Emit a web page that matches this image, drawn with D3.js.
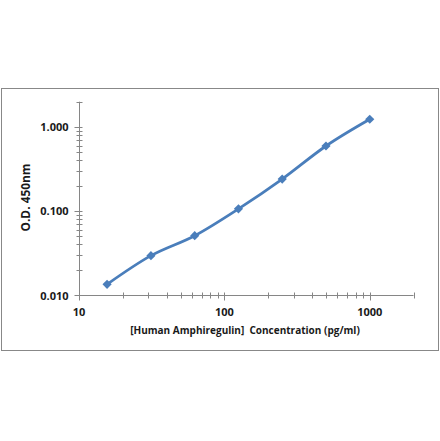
<!DOCTYPE html>
<html>
<head>
<meta charset="utf-8">
<script src="https://cdn.jsdelivr.net/npm/d3@7"></script>
<style>
  html, body { margin: 0; padding: 0; background: #fff; }
  svg { display: block; }
  text { font-family: "Open Sans", "Liberation Sans", sans-serif; font-weight: bold; fill: #1a1a1a; }
</style>
</head>
<body>
<svg id="chart" width="440" height="441"></svg>
<script>
// ---- data ----
const concentrations = [15.6, 31.25, 62.5, 125, 250, 500, 1000];
const odValues = [0.0134, 0.0294, 0.0508, 0.106, 0.240, 0.594, 1.235];
const xTickValues = [10, 100, 1000];
const xTickLabels = ["10", "100", "1000"];
const yTickValues = [0.01, 0.1, 1];
const yTickLabels = ["0.010", "0.100", "1.000"];
const xTitle = "[Human Amphiregulin]  Concentration (pg/ml)";
const yTitle = "O.D. 450nm";

const svg = d3.select("#chart");
const axisColor = "#868686";
const lineColor = "#4A7EBB";

// outer frame
svg.append("rect").attr("x", 1.5).attr("y", 88.5).attr("width", 437).attr("height", 262)
  .attr("fill", "#fff").attr("stroke", "#888").attr("stroke-width", 1);

const x = d3.scaleLog().domain([10, 2000]).range([79, 413.5]);
const y = d3.scaleLog().domain([0.01, 2]).range([295, 101.7]);

function minorTicks(lo, hi) {
  const out = [];
  for (let dec = lo; dec < hi; dec *= 10) {
    for (let m = 2; m <= 9; m++) {
      const v = m * dec;
      if (v <= hi * 1.0001) out.push(v);
    }
  }
  return out;
}

const g = svg.append("g");
const x0 = Math.round(x(10)) + 0.5;
const y0 = Math.round(y(0.01)) + 0.5;

// axes lines
g.append("line").attr("x1", x(10)).attr("x2", x(2000)).attr("y1", y0).attr("y2", y0)
  .attr("stroke", axisColor);
g.append("line").attr("x1", x0).attr("x2", x0).attr("y1", y(0.01)).attr("y2", y(2))
  .attr("stroke", axisColor);

// x minor ticks (crossing)
g.selectAll(".xmin").data(minorTicks(10, 2000)).join("line")
  .attr("x1", d => Math.round(x(d)) + 0.5).attr("x2", d => Math.round(x(d)) + 0.5)
  .attr("y1", y0 - 3).attr("y2", y0 + 3).attr("stroke", axisColor);
// x major ticks
g.selectAll(".xmaj").data(xTickValues).join("line")
  .attr("x1", d => Math.round(x(d)) + 0.5).attr("x2", d => Math.round(x(d)) + 0.5)
  .attr("y1", y0 - 3).attr("y2", y0 + 5).attr("stroke", axisColor);
// y minor ticks
g.selectAll(".ymin").data(minorTicks(0.01, 2)).join("line")
  .attr("y1", d => Math.round(y(d)) + 0.5).attr("y2", d => Math.round(y(d)) + 0.5)
  .attr("x1", x0 - 3).attr("x2", x0 + 3).attr("stroke", axisColor);
// y major ticks
g.selectAll(".ymaj").data(yTickValues).join("line")
  .attr("y1", d => Math.round(y(d)) + 0.5).attr("y2", d => Math.round(y(d)) + 0.5)
  .attr("x1", x0 - 5).attr("x2", x0 + 3).attr("stroke", axisColor);

// tick labels
g.selectAll(".xl").data(xTickValues).join("text")
  .attr("x", d => x(d)).attr("y", 311).attr("text-anchor", "middle")
  .attr("dominant-baseline", "central").attr("font-size", 11)
  .text((d, i) => xTickLabels[i]);
g.selectAll(".yl").data(yTickValues).join("text")
  .attr("x", 68.5).attr("y", d => y(d)).attr("text-anchor", "end")
  .attr("dominant-baseline", "central").attr("font-size", 11)
  .text((d, i) => yTickLabels[i]);

// titles
function fit(sel, target) {
  const w = sel.node().getComputedTextLength();
  const fs = parseFloat(sel.attr("font-size"));
  sel.attr("font-size", fs * target / w);
}
const xt = svg.append("text").attr("x", 245).attr("y", 330).attr("text-anchor", "middle")
  .attr("dominant-baseline", "central").attr("font-size", 11).attr("xml:space", "preserve")
  .style("white-space", "pre").text(xTitle);
fit(xt, 230);
const yt = svg.append("text").attr("transform", "translate(25,197.5) rotate(-90)")
  .attr("text-anchor", "middle").attr("dominant-baseline", "central").attr("font-size", 11)
  .text(yTitle);
fit(yt, 68);

// series
const pts = concentrations.map((c, i) => [x(c), y(odValues[i])]);
svg.append("path").attr("d", d3.line().curve(d3.curveCardinal.tension(0))(pts))
  .attr("fill", "none").attr("stroke", lineColor).attr("stroke-width", 2.75)
  .attr("stroke-linejoin", "round");
svg.selectAll(".mk").data(concentrations).join("path")
  .attr("d", d3.symbol(d3.symbolSquare, 42)())
  .attr("transform", (d, i) => `translate(${x(d)},${y(odValues[i])}) rotate(45)`)
  .attr("fill", lineColor);
</script>
</body>
</html>
